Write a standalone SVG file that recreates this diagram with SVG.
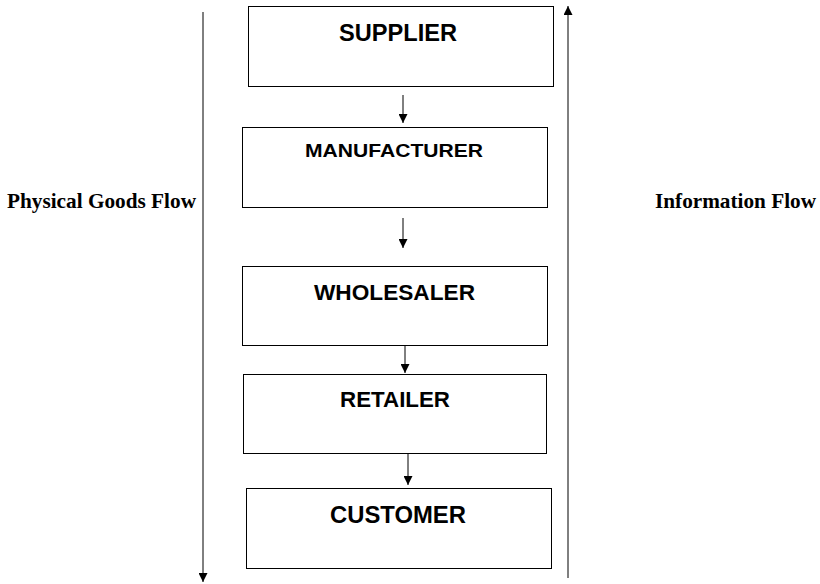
<svg xmlns="http://www.w3.org/2000/svg" width="820" height="584" viewBox="0 0 820 584">
  <style>
    .box { fill: #fff; stroke: #000; stroke-width: 1; }
    .lbl { font-family: "Liberation Sans", Arial, sans-serif; font-weight: bold; fill: #000; text-anchor: middle; }
    .side { font-family: "Liberation Serif", "Times New Roman", serif; font-weight: bold; font-size: 21px; fill: #000; }
    .edge { stroke: #000; stroke-width: 1; fill: none; marker-end: url(#tip); }
  </style>
  <defs>
    <marker id="tip" viewBox="0 0 10 10" refX="10" refY="5" markerWidth="9" markerHeight="9" markerUnits="userSpaceOnUse" orient="auto">
      <path d="M0,0 L10,5 L0,10 z" fill="#000"/>
    </marker>
  </defs>
  <rect width="820" height="584" fill="#fff"/>

  <g id="connectors">
    <line class="edge" x1="203" y1="12" x2="203" y2="582"/>
    <line class="edge" x1="568" y1="578" x2="568" y2="6"/>
    <line class="edge" x1="403" y1="95" x2="403" y2="123"/>
    <line class="edge" x1="403" y1="218" x2="403" y2="248"/>
    <line class="edge" x1="405" y1="345" x2="405" y2="373"/>
    <line class="edge" x1="408" y1="453" x2="408" y2="485"/>
  </g>

  <g id="supplier">
    <rect class="box" x="248.5" y="6.5" width="305" height="80"/>
    <text class="lbl" x="398" y="41" font-size="23" textLength="118" lengthAdjust="spacingAndGlyphs">SUPPLIER</text>
  </g>
  <g id="manufacturer">
    <rect class="box" x="242.5" y="127.5" width="305" height="80"/>
    <text class="lbl" x="394" y="157" font-size="19" textLength="178" lengthAdjust="spacingAndGlyphs">MANUFACTURER</text>
  </g>
  <g id="wholesaler">
    <rect class="box" x="242.5" y="266.5" width="305" height="79"/>
    <text class="lbl" x="394.5" y="300" font-size="22.5" textLength="161" lengthAdjust="spacingAndGlyphs">WHOLESALER</text>
  </g>
  <g id="retailer">
    <rect class="box" x="243.5" y="374.5" width="303" height="79"/>
    <text class="lbl" x="395" y="407" font-size="22" textLength="110" lengthAdjust="spacingAndGlyphs">RETAILER</text>
  </g>
  <g id="customer">
    <rect class="box" x="246.5" y="488.5" width="305" height="80"/>
    <text class="lbl" x="398" y="523" font-size="24" textLength="136" lengthAdjust="spacingAndGlyphs">CUSTOMER</text>
  </g>

  <g id="labels">
    <text class="side" x="7" y="208" textLength="189" lengthAdjust="spacingAndGlyphs">Physical Goods Flow</text>
    <text class="side" x="655" y="208" textLength="161" lengthAdjust="spacingAndGlyphs">Information Flow</text>
  </g>
</svg>
